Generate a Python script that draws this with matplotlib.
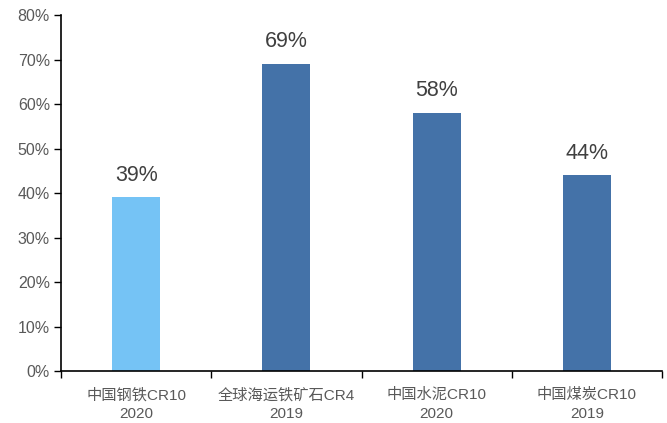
import matplotlib
matplotlib.use("Agg")
import matplotlib.pyplot as plt
from matplotlib.ticker import PercentFormatter, FixedLocator

plt.rcParams['font.family'] = ['Liberation Sans', 'Noto Sans CJK SC', 'DejaVu Sans']

categories = ["中国钢铁CR10\n2020", "全球海运铁矿石CR4\n2019", "中国水泥CR10\n2020", "中国煤炭CR10\n2019"]
values = [39, 69, 58, 44]
colors = ["#75C3F5", "#4472A8", "#4472A8", "#4472A8"]

fig = plt.figure(figsize=(6.67, 4.23), dpi=100)
ax = fig.add_axes([0.0915, 0.1229, 0.901, 0.8416])

x = list(range(len(categories)))
ax.bar(x, values, width=0.32, color=colors, zorder=2)

for xi, v in zip(x, values):
    ax.text(xi, v + 2.6, f"{v}%", ha="center", va="bottom", fontsize=15.5, color="#404040")

ax.set_xlim(-0.5, len(categories) - 0.5)
ax.set_ylim(0, 80)
ax.set_yticks(range(0, 81, 10))
ax.yaxis.set_major_formatter(PercentFormatter(decimals=0))

ax.set_xticks(x)
ax.set_xticklabels(categories, fontsize=11, color="#595959", linespacing=1.45)
ax.tick_params(axis="x", length=0, pad=12)
ax.xaxis.set_minor_locator(FixedLocator([i + 0.5 for i in range(-1, len(categories))]))
ax.tick_params(axis="x", which="minor", length=5, width=1, direction="out", color="black")
ax.tick_params(axis="y", length=5, width=1, direction="out", labelsize=11.5, labelcolor="#595959", pad=3)

for s in ["top", "right"]:
    ax.spines[s].set_visible(False)
for s in ["left", "bottom"]:
    ax.spines[s].set_linewidth(1.2)
    ax.spines[s].set_color("black")

fig.savefig("out.png", dpi=100)
